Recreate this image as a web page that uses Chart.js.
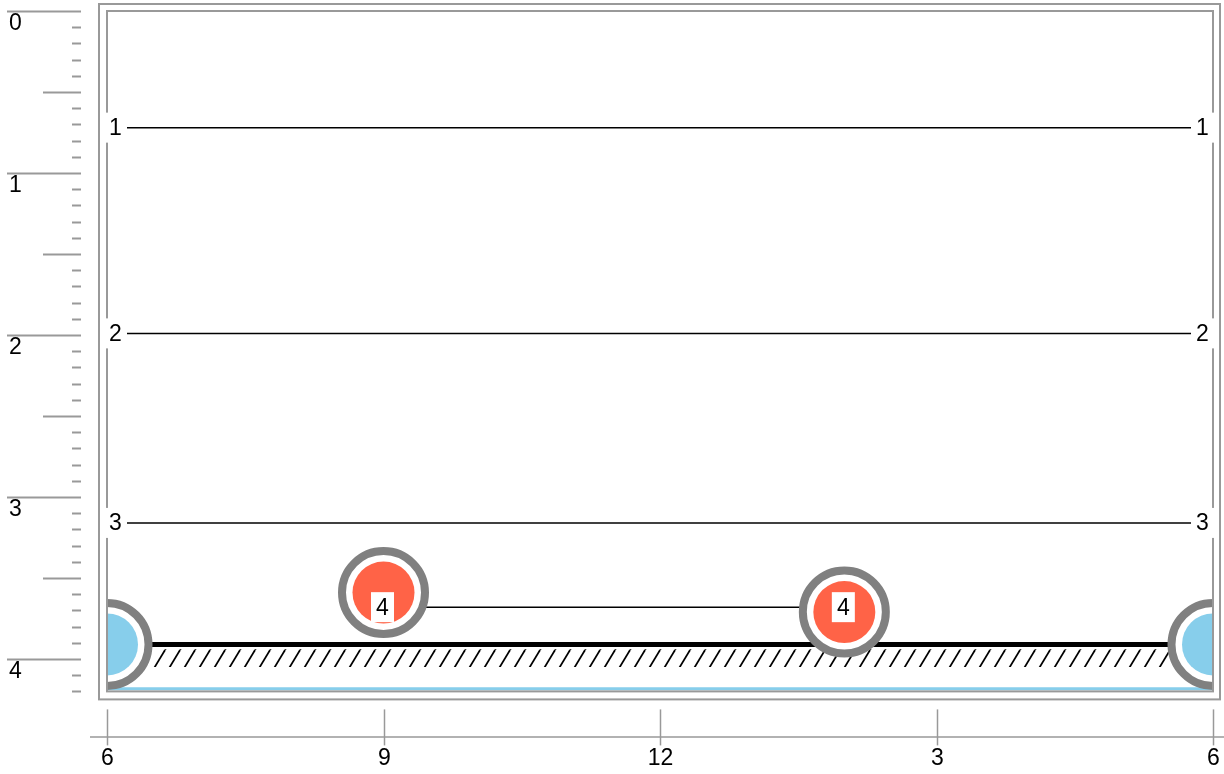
<!DOCTYPE html>
<html>
<head>
<meta charset="utf-8">
<title>Levels</title>
<script src="https://cdn.jsdelivr.net/npm/chart.js@4.4.1/dist/chart.umd.min.js"></script>
<style>
    html, body { margin: 0; padding: 0; background: #fff; }
    #wrap { width: 1224px; height: 774px; position: relative; }
</style>
</head>
<body>
<div id="wrap"><canvas id="levels-chart"></canvas></div>
<script>
(function() {
    "use strict";

    // x is hour of day (6 am .. 6 pm), y is depth (0 at top)
    const xTickValues = [6, 9, 12, 15, 18];
    const xTickLabels = ['6', '9', '12', '3', '6'];
    const yTickValues = [0, 1, 2, 3, 4];
    const yTickLabels = ['0', '1', '2', '3', '4'];

    const levelValues = [0.72, 1.99, 3.16];
    const levelLabels = ['1', '2', '3'];

    const linkX = [9, 14];
    const linkY = 3.68;
    const linkLabel = '4';

    const redX = [9, 14];
    const redY = [3.59, 3.71];

    const blueX = [6, 18];
    const blueY = [3.91, 3.91];

    const groundY = 3.91;
    const hatchTop = 3.94;
    const hatchBottom = 4.05;
    const waterY = 4.184;

    const colors = {
        axis: '#999999',
        ring: '#808080',
        red: '#ff6347',
        blue: '#87ceeb',
        ink: '#000000'
    };
    const font = '23px "Liberation Sans", Arial, sans-serif';

    function hatchPattern() {
        const c = document.createElement('canvas');
        c.width = 15;
        c.height = 25;
        const g = c.getContext('2d');
        g.strokeStyle = '#000';
        g.lineWidth = 1.7;
        [-15, 0, 15].forEach(function(dx) {
            g.beginPath();
            g.moveTo(dx, 25);
            g.lineTo(dx + 15, 0);
            g.stroke();
        });
        return g.createPattern(c, 'repeat');
    }

    function flat(xs, y) {
        return xs.map(function(x) { return {x: x, y: y}; });
    }

    function points(xs, ys) {
        return xs.map(function(x, i) { return {x: x, y: ys[i]}; });
    }

    const datasets = [];

    datasets.push({
        label: 'water',
        data: flat([6, 18], waterY),
        borderColor: colors.blue,
        borderWidth: 3,
        pointRadius: 0,
        fill: false,
        order: 10
    });

    datasets.push({
        label: 'hatch',
        data: flat([6, 18], hatchTop),
        borderWidth: 0,
        borderColor: 'rgba(0,0,0,0)',
        backgroundColor: hatchPattern(),
        pointRadius: 0,
        fill: {value: hatchBottom},
        order: 9
    });

    datasets.push({
        label: 'ground',
        data: flat([6, 18], groundY),
        borderColor: colors.ink,
        borderWidth: 5,
        pointRadius: 0,
        fill: false,
        order: 8
    });

    levelValues.forEach(function(v, i) {
        datasets.push({
            label: 'level ' + levelLabels[i],
            data: flat([6, 18], v),
            borderColor: colors.ink,
            borderWidth: 1.5,
            pointRadius: 0,
            fill: false,
            order: 7
        });
    });

    datasets.push({
        label: 'link',
        data: flat(linkX, linkY),
        borderColor: colors.ink,
        borderWidth: 1.5,
        pointRadius: 0,
        fill: false,
        order: 7
    });

    // rings (white fill, grey edge) under the coloured cores
    [[redX, redY], [blueX, blueY]].forEach(function(p) {
        datasets.push({
            label: 'ring',
            data: points(p[0], p[1]),
            showLine: false,
            pointRadius: 41.5,
            pointBorderWidth: 8,
            pointBorderColor: colors.ring,
            pointBackgroundColor: '#ffffff',
            clip: 0,
            order: 5
        });
    });

    datasets.push({
        label: 'red',
        data: points(redX, redY),
        showLine: false,
        pointRadius: 31,
        pointBorderWidth: 0,
        pointBackgroundColor: colors.red,
        clip: 0,
        order: 4
    });

    datasets.push({
        label: 'blue',
        data: points(blueX, blueY),
        showLine: false,
        pointRadius: 31,
        pointBorderWidth: 0,
        pointBackgroundColor: colors.blue,
        clip: 0,
        order: 4
    });

    function labelBox(ctx, text, cx, cy) {
        ctx.fillStyle = '#ffffff';
        ctx.fillRect(cx - 11.5, cy - 15, 23, 30);
        ctx.fillStyle = colors.ink;
        ctx.textAlign = 'center';
        ctx.textBaseline = 'middle';
        ctx.fillText(text, cx, cy + 1);
    }

    const decorations = {
        id: 'decorations',
        afterDatasetsDraw: function(chart) {
            const ctx = chart.ctx;
            const area = chart.chartArea;
            const x = chart.scales.x;
            const y = chart.scales.y;

            ctx.save();
            ctx.font = font;
            ctx.strokeStyle = colors.axis;

            // frames
            ctx.lineWidth = 2;
            ctx.strokeRect(area.left, area.top, area.right - area.left, area.bottom - area.top);
            ctx.strokeRect(area.left - 8, area.top - 7, area.right - area.left + 15, area.bottom - area.top + 15);

            // y ruler, ticks every 0.1
            for (let i = 0; i <= Math.round(y.max * 10); i++) {
                const py = Math.round(y.getPixelForValue(i / 10)) + 0.5;
                let from = 72;
                if (i % 10 === 0) {
                    from = 7;
                } else if (i % 5 === 0) {
                    from = 43;
                }
                ctx.beginPath();
                ctx.moveTo(from, py);
                ctx.lineTo(81, py);
                ctx.stroke();
            }
            ctx.fillStyle = colors.ink;
            ctx.textAlign = 'left';
            ctx.textBaseline = 'top';
            yTickValues.forEach(function(v, i) {
                ctx.fillText(yTickLabels[i], 9, y.getPixelForValue(v) + 1);
            });

            // x axis, set below the frame
            const axisY = area.bottom + 45.5;
            ctx.lineWidth = 1.5;
            ctx.beginPath();
            ctx.moveTo(90, axisY);
            ctx.lineTo(chart.width, axisY);
            ctx.stroke();
            xTickValues.forEach(function(v, i) {
                const px = Math.round(x.getPixelForValue(v)) + 0.5;
                ctx.beginPath();
                ctx.moveTo(px, area.bottom + 18);
                ctx.lineTo(px, area.bottom + 54);
                ctx.stroke();
                ctx.fillStyle = colors.ink;
                ctx.textAlign = 'center';
                ctx.textBaseline = 'top';
                ctx.fillText(xTickLabels[i], px, area.bottom + 56);
            });

            // line labels
            levelValues.forEach(function(v, i) {
                const py = y.getPixelForValue(v);
                labelBox(ctx, levelLabels[i], area.left + 8.5, py);
                labelBox(ctx, levelLabels[i], area.right - 10.5, py);
            });
            linkX.forEach(function(v) {
                labelBox(ctx, linkLabel, x.getPixelForValue(v) - 1, y.getPixelForValue(linkY));
            });

            ctx.restore();
        }
    };

    let levelsChart = document.getElementById('levels-chart');
    if (levelsChart) {
        window.Chart && new Chart(levelsChart, {
            type: 'line',
            data: {
                datasets: datasets
            },
            options: {
                responsive: true,
                maintainAspectRatio: false,
                animation: false,
                events: [],
                layout: {
                    autoPadding: false,
                    padding: {
                        left: 107,
                        top: 11,
                        right: 11,
                        bottom: 82.6
                    }
                },
                plugins: {
                    legend: {
                        display: false
                    },
                    tooltip: {
                        enabled: false
                    }
                },
                scales: {
                    x: {
                        type: 'linear',
                        min: 6,
                        max: 18,
                        display: false
                    },
                    y: {
                        type: 'linear',
                        min: 0,
                        max: 4.2,
                        reverse: true,
                        display: false
                    }
                }
            },
            plugins: [decorations]
        });
    }
})();
</script>
</body>
</html>
